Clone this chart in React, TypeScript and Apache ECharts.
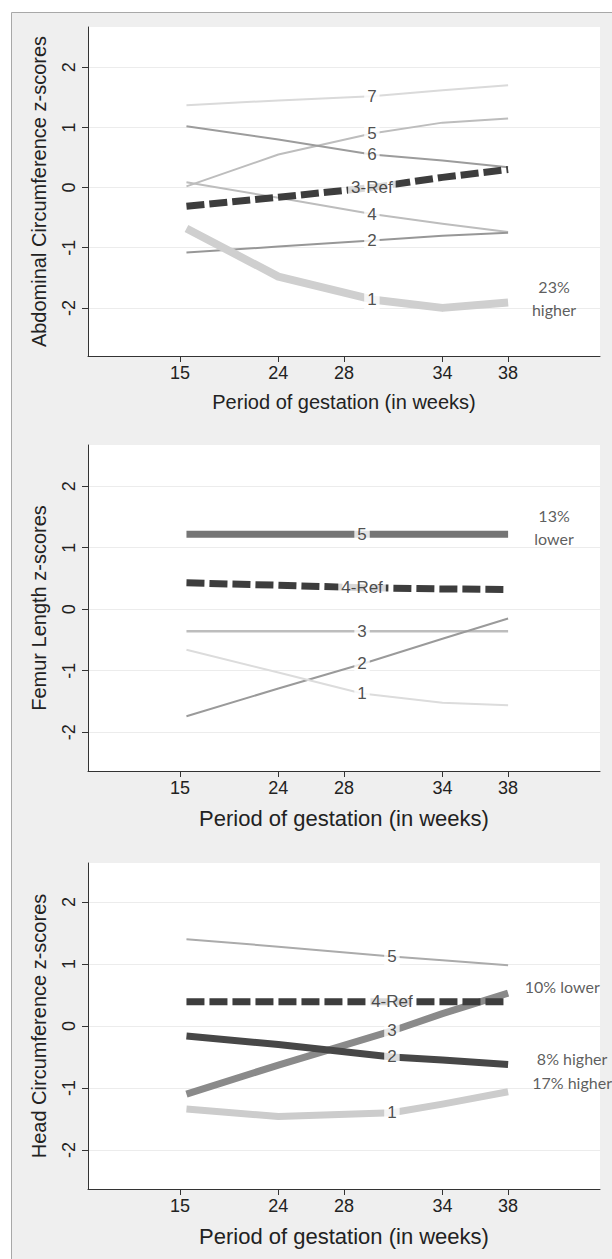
import React, { useEffect, useRef } from "react";
import * as echarts from "echarts";

// ---------- shared axis data ----------
const weekLabels = ["15", "24", "28", "34", "38"];
const weekPos = [0, 3, 5, 8, 10];
const yTicks = [-2, -1, 0, 1, 2];

// ---------- Panel 1: Abdominal Circumference ----------
const acX = [0.2, 3, 5.85, 8, 10];
const acNames = ["7", "5", "6", "3-Ref", "4", "2", "1"];
const ac7 = [1.37, 1.45, 1.52, 1.62, 1.7];
const ac5 = [0.02, 0.55, 0.9, 1.08, 1.15];
const ac6 = [1.02, 0.8, 0.55, 0.45, 0.34];
const ac3 = [-0.31, -0.16, 0.0, 0.17, 0.3];
const ac4 = [0.09, -0.17, -0.44, -0.6, -0.74];
const ac2 = [-1.08, -0.98, -0.88, -0.8, -0.75];
const ac1 = [-0.68, -1.48, -1.86, -2.0, -1.91];
const acNoteText = ["23%\nhigher"];
const acNoteX = [11.4];
const acNoteY = [-1.83];

// ---------- Panel 2: Femur Length ----------
const flX = [0.2, 3, 5.55, 8, 10];
const flNames = ["5", "4-Ref", "3", "2", "1"];
const fl5 = [1.22, 1.22, 1.22, 1.22, 1.22];
const fl4 = [0.43, 0.39, 0.35, 0.33, 0.32];
const fl3 = [-0.36, -0.36, -0.36, -0.36, -0.36];
const fl2 = [-1.74, -1.29, -0.89, -0.48, -0.15];
const fl1 = [-0.66, -1.03, -1.37, -1.52, -1.56];
const flNoteText = ["13%\nlower"];
const flNoteX = [11.4];
const flNoteY = [1.34];

// ---------- Panel 3: Head Circumference ----------
const hcX = [0.2, 3, 6.46, 8, 10];
const hcNames = ["5", "4-Ref", "3", "2", "1"];
const hc5 = [1.4, 1.28, 1.12, 1.06, 0.98];
const hc4 = [0.39, 0.39, 0.39, 0.39, 0.39];
const hc3 = [-1.1, -0.63, -0.08, 0.2, 0.53];
const hc2 = [-0.16, -0.3, -0.5, -0.55, -0.62];
const hc1 = [-1.34, -1.46, -1.4, -1.26, -1.06];
const hcNoteText = ["10% lower", "8% higher", "17% higher"];
const hcNoteX = [11.65, 11.95, 11.95];
const hcNoteY = [0.63, -0.52, -0.91];

// ---------- styles ----------
const DASH = [18, 5];
const acStyles = [
  { color: "#dadada", width: 2 },
  { color: "#bdbdbd", width: 2 },
  { color: "#9c9c9c", width: 2 },
  { color: "#3d3d3d", width: 7, dash: true },
  { color: "#bdbdbd", width: 2 },
  { color: "#979797", width: 2 },
  { color: "#cfcfcf", width: 8 },
];
const flStyles = [
  { color: "#757575", width: 7 },
  { color: "#3d3d3d", width: 7, dash: true },
  { color: "#bdbdbd", width: 2.5 },
  { color: "#9a9a9a", width: 2 },
  { color: "#dcdcdc", width: 2 },
];
const hcStyles = [
  { color: "#ababab", width: 2 },
  { color: "#3d3d3d", width: 7, dash: true },
  { color: "#8a8a8a", width: 7 },
  { color: "#474747", width: 7 },
  { color: "#cccccc", width: 7 },
];

const FONT = "Liberation Sans";
const TXT = "#222";

const panels = [
  {
    top: 27, height: 329, yMin: -2.8, yMax: 2.67,
    yTitle: "Abdominal Circumference z-scores", xTitleSize: 20,
    xs: acX, names: acNames, values: [ac7, ac5, ac6, ac3, ac4, ac2, ac1], styles: acStyles,
    noteText: acNoteText, noteX: acNoteX, noteY: acNoteY,
  },
  {
    top: 445, height: 326, yMin: -2.63, yMax: 2.67,
    yTitle: "Femur Length z-scores", xTitleSize: 22,
    xs: flX, names: flNames, values: [fl5, fl4, fl3, fl2, fl1], styles: flStyles,
    noteText: flNoteText, noteX: flNoteX, noteY: flNoteY,
  },
  {
    top: 863, height: 326, yMin: -2.63, yMax: 2.63,
    yTitle: "Head Circumference z-scores", xTitleSize: 22,
    xs: hcX, names: hcNames, values: [hc5, hc4, hc3, hc2, hc1], styles: hcStyles,
    noteText: hcNoteText, noteX: hcNoteX, noteY: hcNoteY,
  },
];

function buildOption() {
  const grid: any[] = [];
  const xAxis: any[] = [];
  const yAxis: any[] = [];
  const series: any[] = [];

  panels.forEach((p, k) => {
    grid.push({
      left: 88, right: 12, top: p.top, height: p.height,
      show: true, backgroundColor: "#ffffff", borderWidth: 0,
    });
    xAxis.push({
      type: "value", gridIndex: k, min: -2.8, max: 12.8,
      name: "Period of gestation (in weeks)", nameLocation: "middle", nameGap: 36,
      nameTextStyle: { fontFamily: FONT, fontSize: p.xTitleSize, color: TXT },
      axisLine: { show: true, onZero: false, lineStyle: { color: "#333", width: 1 } },
      axisTick: { show: true, length: 6, customValues: weekPos, lineStyle: { color: "#333" } },
      axisLabel: {
        customValues: weekPos, margin: 8, fontFamily: FONT, fontSize: 18, color: TXT,
        formatter: (v: number) => weekLabels[weekPos.indexOf(v)] ?? "",
      },
      splitLine: { show: false },
    });
    yAxis.push({
      type: "value", gridIndex: k, min: p.yMin, max: p.yMax,
      name: p.yTitle, nameLocation: "middle", nameGap: 39, nameRotate: 90,
      nameTextStyle: { fontFamily: FONT, fontSize: 20, color: TXT },
      axisLine: { show: true, onZero: false, lineStyle: { color: "#333", width: 1 } },
      axisTick: { show: true, length: 6, customValues: yTicks, lineStyle: { color: "#333" } },
      axisLabel: {
        customValues: yTicks, rotate: 90, margin: 10, fontFamily: FONT, fontSize: 18, color: TXT,
        formatter: (v: number) => String(v),
      },
      splitLine: { show: true, lineStyle: { color: "#ececec", width: 1 } },
    });

    p.values.forEach((vals, i) => {
      const st: any = p.styles[i];
      series.push({
        type: "line", xAxisIndex: k, yAxisIndex: k, z: 2 + (st.dash ? 1 : 0),
        symbol: "none", silent: true,
        lineStyle: { color: st.color, width: st.width, type: st.dash ? DASH : "solid", cap: "butt", join: "round" },
        data: p.xs.map((x, j) => [x, vals[j]]),
      });
    });

    // line labels (placed on each line's labelled data point)
    series.push({
      type: "scatter", xAxisIndex: k, yAxisIndex: k, z: 10, silent: true,
      symbolSize: 1, itemStyle: { color: "rgba(0,0,0,0)" },
      label: {
        show: true, position: "inside", formatter: "{b}",
        fontFamily: FONT, fontSize: 17, color: TXT,
        backgroundColor: "#ffffff", padding: [1, 3],
      },
      data: p.names.map((n, i) => ({ name: n, value: [p.xs[2], p.values[i][2]] })),
    });

    // side notes
    series.push({
      type: "scatter", xAxisIndex: k, yAxisIndex: k, z: 10, silent: true,
      symbolSize: 1, itemStyle: { color: "rgba(0,0,0,0)" },
      label: {
        show: true, position: "inside", formatter: "{b}",
        fontFamily: "Lato", fontSize: 16, lineHeight: 23, color: "#333", align: "center",
      },
      data: p.noteText.map((t, i) => ({ name: t, value: [p.noteX[i], p.noteY[i]] })),
    });
  });

  return {
    animation: false,
    backgroundColor: "#ffffff",
    graphic: [
      {
        type: "rect", z: -100, silent: true,
        shape: { x: 11.5, y: 12.5, width: 620, height: 1260 },
        style: { fill: "#efefef", stroke: "#a8a8a8", lineWidth: 1 },
      },
    ],
    grid, xAxis, yAxis, series,
  };
}

export default function App() {
  const ref = useRef<HTMLDivElement>(null);
  useEffect(() => {
    const chart = echarts.init(ref.current as HTMLDivElement, null, { renderer: "svg" });
    chart.setOption(buildOption() as any);
    return () => chart.dispose();
  }, []);
  return (
    <div
      ref={ref}
      style={{ position: "absolute", left: 0, top: 0, width: 612, height: 1259 }}
    />
  );
}
